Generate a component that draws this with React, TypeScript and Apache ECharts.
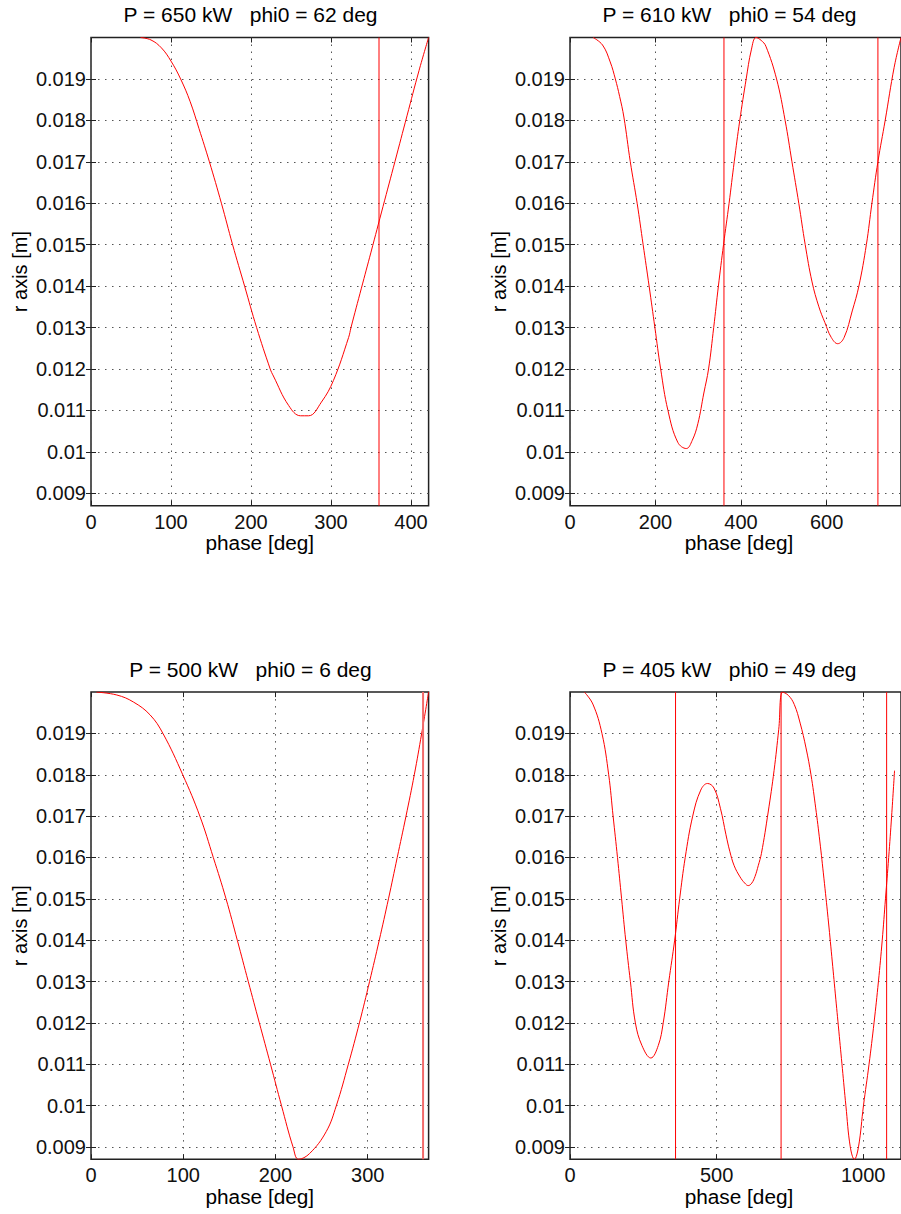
import React, { useEffect, useRef } from "react";
import * as echarts from "echarts";

// ---------- data ----------
const panelTitles = [
  "P = 650 kW   phi0 = 62 deg",
  "P = 610 kW   phi0 = 54 deg",
  "P = 500 kW   phi0 = 6 deg",
  "P = 405 kW   phi0 = 49 deg",
];
const xAxisName = "phase [deg]";
const yAxisName = "r axis [m]";

const yMin = 0.0087;
const yMax = 0.02;
const yTicks = [0.009, 0.01, 0.011, 0.012, 0.013, 0.014, 0.015, 0.016, 0.017, 0.018, 0.019];

const xMaxes = [422, 774, 366, 1129];
const xTicks1 = [0, 100, 200, 300, 400];
const xTicks2 = [0, 200, 400, 600];
const xTicks3 = [0, 100, 200, 300];
const xTicks4 = [0, 500, 1000];

const cycleLines1 = [360];
const cycleLines2 = [360, 720];
const cycleLines3 = [360];
const cycleLines4 = [360, 720, 1080];

const phase1 = [62, 75, 88, 100, 112, 124, 135, 148, 163, 177, 192, 207, 224, 228, 247, 262, 272, 288, 303, 322, 325, 338, 350, 365, 380, 395, 410, 422];
const r1 = [0.02, 0.01994, 0.01975, 0.01943, 0.019, 0.01845, 0.0178, 0.017, 0.016, 0.015, 0.014, 0.013, 0.012, 0.01183, 0.01112, 0.01087, 0.01087, 0.0112, 0.01172, 0.01276, 0.013, 0.01395, 0.01482, 0.01592, 0.01701, 0.01811, 0.0192, 0.02];

const phase2 = [54, 76, 94, 106, 116, 126, 141, 157, 171, 185, 198.5, 212, 229, 252, 272, 286, 299, 313, 324, 336, 347, 359, 372, 384, 397, 412, 424, 435, 447, 458, 483, 503, 519, 535, 550, 566, 582, 596, 611, 626, 641, 660, 675.5, 693, 706, 720, 737, 758, 774];
const r2 = [0.02, 0.01982, 0.01941, 0.019, 0.01858, 0.01808, 0.017, 0.016, 0.015, 0.014, 0.013, 0.012, 0.011, 0.01023, 0.01008, 0.01028, 0.01068, 0.01142, 0.012, 0.013, 0.014, 0.015, 0.016, 0.017, 0.018, 0.019, 0.0197, 0.02, 0.01993, 0.01979, 0.019, 0.018, 0.017, 0.016, 0.015, 0.0141, 0.0135, 0.01312, 0.01276, 0.01261, 0.01276, 0.0134, 0.014, 0.015, 0.016, 0.017, 0.018, 0.01928, 0.02];

const phase3 = [6, 28, 46, 64, 78, 99.5, 118, 132.6, 146.4, 158.6, 170.5, 182.5, 194.6, 206.5, 219, 225, 237, 255, 266, 279, 291, 302, 312.5, 322.5, 332, 341.5, 350.5, 358.5, 366];
const r3 = [0.02, 0.01993, 0.01976, 0.01945, 0.019, 0.018, 0.017, 0.016, 0.015, 0.014, 0.013, 0.012, 0.011, 0.01, 0.009, 0.0087, 0.00884, 0.00937, 0.01, 0.011, 0.012, 0.013, 0.014, 0.015, 0.016, 0.017, 0.018, 0.019, 0.02];

const phase4 = [49, 78, 109, 132, 147, 162, 176, 190, 206, 223, 245.5, 275.7, 301, 318, 337, 357, 374, 393, 418.5, 446, 469, 491, 513, 532, 545, 560, 580, 596, 608, 620, 631, 642, 653, 676, 696, 712, 725, 745, 765, 785, 805, 822, 838, 852, 866, 880, 893, 905, 917, 929, 941, 956, 970, 984, 1001, 1020, 1037, 1052, 1065, 1076, 1087, 1097, 1107];
const r4 = [0.02, 0.01971, 0.019, 0.018, 0.017, 0.016, 0.015, 0.014, 0.013, 0.012, 0.01145, 0.01115, 0.01145, 0.012, 0.013, 0.014, 0.015, 0.016, 0.017, 0.01763, 0.01779, 0.01768, 0.01719, 0.01655, 0.01615, 0.0158, 0.01553, 0.01538, 0.01532, 0.01538, 0.01554, 0.0158, 0.0161, 0.0171, 0.0181, 0.0191, 0.02, 0.01992, 0.0197, 0.01925, 0.01865, 0.018, 0.0172, 0.0164, 0.0155, 0.01455, 0.0136, 0.0127, 0.0118, 0.0109, 0.01, 0.009, 0.0087, 0.009, 0.01, 0.011, 0.012, 0.013, 0.014, 0.015, 0.016, 0.017, 0.0181];

// ---------- layout / style ----------
const grids = [
  { left: 91, top: 37.5, width: 337.6, height: 468.2 },
  { left: 570, top: 37.5, width: 338, height: 468.2 },
  { left: 91, top: 692.1, width: 337.6, height: 467.2 },
  { left: 570, top: 692.1, width: 338, height: 467.2 },
];
const titlePos = [
  [250.5, 15],
  [729.5, 15],
  [250.5, 670],
  [729.5, 670],
];
const FONT = '"Liberation Sans", Arial, sans-serif';
const AXIS = "#222222";

const panels = [
  { phase: phase1, r: r1, xTicks: xTicks1, cycles: cycleLines1, cycleStyle: { color: "#ff0000", width: 1 } },
  { phase: phase2, r: r2, xTicks: xTicks2, cycles: cycleLines2, cycleStyle: { color: "#ff0000", width: 1 } },
  { phase: phase3, r: r3, xTicks: xTicks3, cycles: cycleLines3, cycleStyle: { color: "#f26a6a", width: 2 } },
  { phase: phase4, r: r4, xTicks: xTicks4, cycles: cycleLines4, cycleStyle: { color: "#ff0000", width: 1 } },
];

const fmtY = (v: number) => String(Number(v.toFixed(4)));
const fmtX = (v: number) => String(Math.round(v));
const dotted = { color: "#555555", width: 1, type: [1.5, 5.5] };

function textEl(text: string, x: number, y: number, extra: any = {}) {
  return {
    type: "text",
    x,
    y,
    silent: true,
    ...extra,
    style: {
      text,
      font: `20px ${FONT}`,
      fill: "#000",
      textAlign: "center",
      textVerticalAlign: "middle",
      align: "center",
      verticalAlign: "middle",
    },
  };
}

function buildOption() {
  const xAxis: any[] = [];
  const yAxis: any[] = [];
  const series: any[] = [];
  const graphic: any[] = [];

  panels.forEach((p, i) => {
    const g = grids[i];
    const tick = { inside: true, length: 5, lineStyle: { color: AXIS, width: 1 } };
    xAxis.push({
      type: "value",
      gridIndex: i,
      min: 0,
      max: xMaxes[i],
      position: "bottom",
      axisLine: { show: false },
      axisTick: { ...tick, customValues: p.xTicks },
      axisLabel: {
        customValues: p.xTicks,
        margin: 6,
        fontSize: 20,
        fontFamily: FONT,
        color: "#111",
        formatter: fmtX,
      },
      splitLine: { show: true, lineStyle: dotted },
    });
    xAxis.push({
      type: "value",
      gridIndex: i,
      min: 0,
      max: xMaxes[i],
      position: "top",
      axisLine: { show: false },
      axisTick: { ...tick, customValues: p.xTicks },
      axisLabel: { show: false },
      splitLine: { show: false },
    });
    yAxis.push({
      type: "value",
      gridIndex: i,
      min: yMin,
      max: yMax,
      position: "left",
      axisLine: { show: false },
      axisTick: { ...tick, customValues: yTicks },
      axisLabel: {
        customValues: yTicks,
        margin: 5,
        fontSize: 20,
        fontFamily: FONT,
        color: "#111",
        formatter: fmtY,
      },
      splitLine: { show: true, lineStyle: dotted },
    });
    yAxis.push({
      type: "value",
      gridIndex: i,
      min: yMin,
      max: yMax,
      position: "right",
      axisLine: { show: false },
      axisTick: { ...tick, customValues: yTicks },
      axisLabel: { show: false },
      splitLine: { show: false },
    });

    // curve
    series.push({
      type: "line",
      xAxisIndex: 2 * i,
      yAxisIndex: 2 * i,
      data: p.phase.map((x, k) => [x, p.r[k]]),
      showSymbol: false,
      symbol: "none",
      smooth: 0.4,
      silent: true,
      z: 3,
      lineStyle: { color: "#ff0000", width: 1 },
    });

    // full-cycle markers (vertical lines spanning the y range)
    p.cycles.forEach((v) => {
      series.push({
        type: "line",
        xAxisIndex: 2 * i,
        yAxisIndex: 2 * i,
        data: [
          [v, yMin],
          [v, yMax],
        ],
        showSymbol: false,
        symbol: "none",
        silent: true,
        z: 4,
        lineStyle: { ...p.cycleStyle, type: "solid" },
      });
    });

    graphic.push(textEl(panelTitles[i], titlePos[i][0], titlePos[i][1], { scaleX: 1.05 }));
    graphic.push(textEl(xAxisName, g.left + g.width / 2, g.top + g.height + 37.5, { scaleX: 1.04 }));
    graphic.push(textEl(yAxisName, g.left - 71, g.top + g.height / 2, { rotation: Math.PI / 2 }));
  });

  return {
    animation: false,
    backgroundColor: "#ffffff",
    grid: grids.map((g) => ({
      ...g,
      show: true,
      borderColor: AXIS,
      borderWidth: 1.5,
      backgroundColor: "#ffffff",
      containLabel: false,
    })),
    xAxis,
    yAxis,
    series,
    graphic,
  };
}

export default function App() {
  const ref = useRef<HTMLDivElement>(null);
  useEffect(() => {
    document.body.style.margin = "0";
    if (!ref.current) return;
    const chart = echarts.init(ref.current, undefined, { renderer: "svg" });
    chart.setOption(buildOption() as any);
    return () => chart.dispose();
  }, []);
  return <div ref={ref} style={{ width: 901, height: 1214, overflow: "hidden" }} />;
}
